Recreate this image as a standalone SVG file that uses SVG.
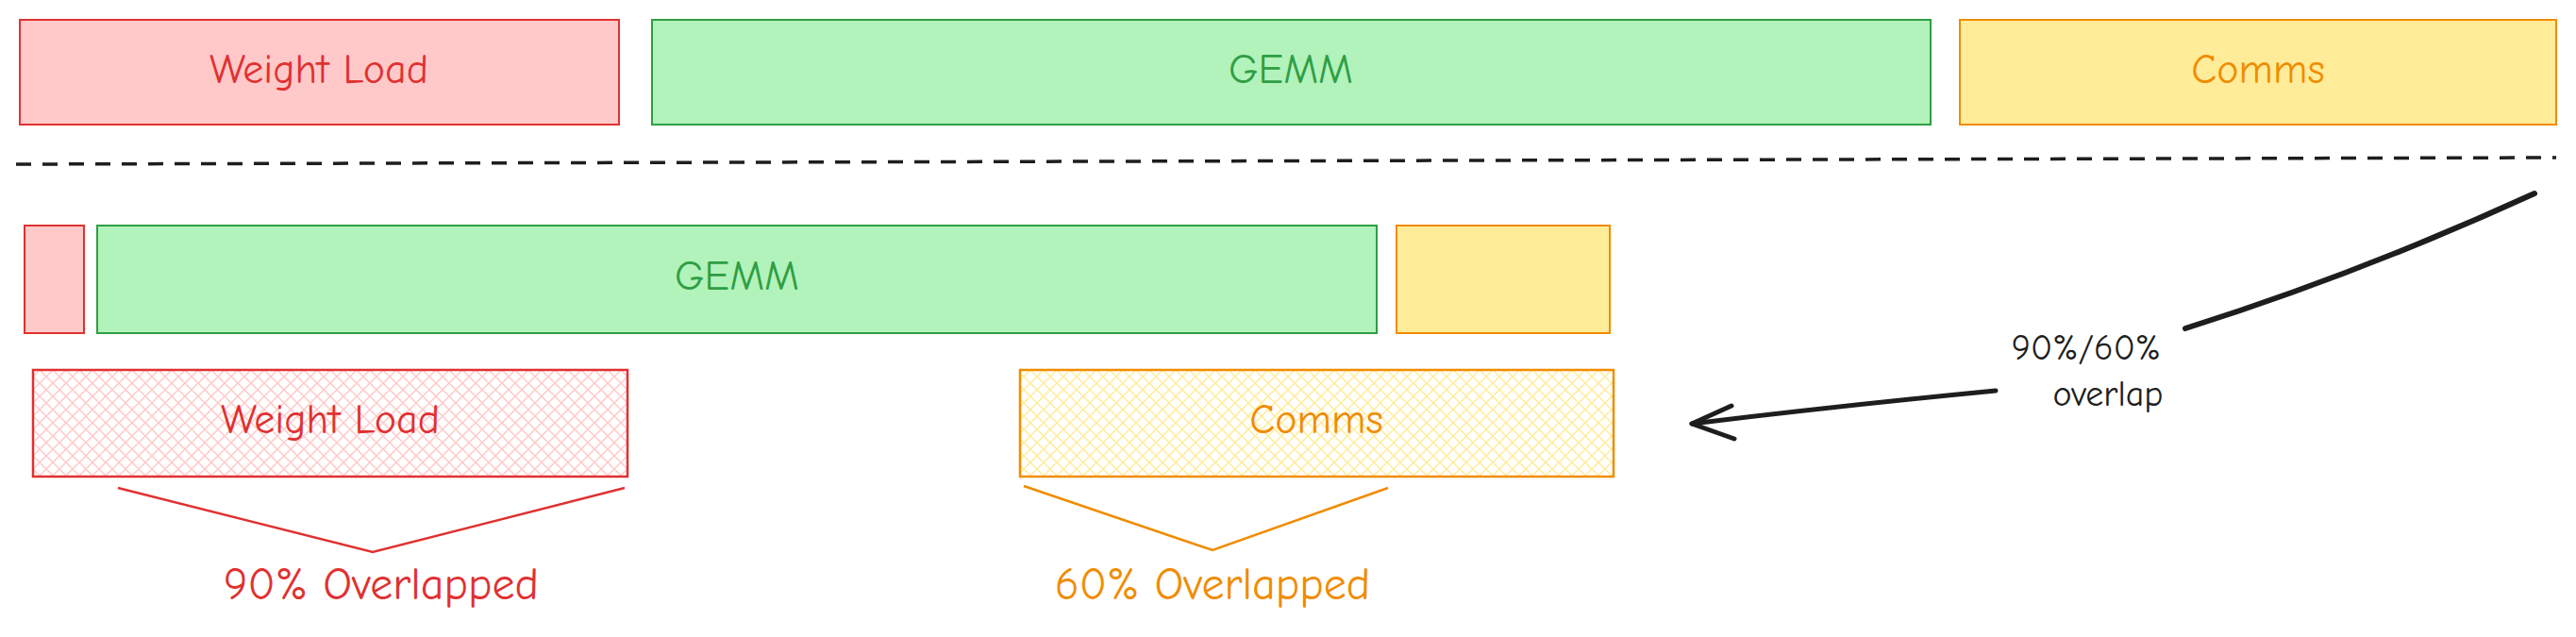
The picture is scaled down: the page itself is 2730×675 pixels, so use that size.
<svg xmlns="http://www.w3.org/2000/svg" width="2730" height="675" viewBox="0 0 2730 675">
<style>
text{font-family:"Comic Neue","Liberation Sans",sans-serif;font-size:44px;text-anchor:middle;dominant-baseline:middle}
.big{font-size:48px}
.ov{font-size:38px}
.r{fill:#ffc9c9;stroke:#e03131;stroke-width:2}
.g{fill:#b2f2bb;stroke:#2f9e44;stroke-width:2}
.y{fill:#ffec99;stroke:#f08c00;stroke-width:2}
.tr{fill:#e03131}.tg{fill:#2f9e44}.ty{fill:#f08c00}.tk{fill:#1e1e1e}
</style>
<defs>
<pattern id="hr" width="14" height="14" patternUnits="userSpaceOnUse"><path d="M0 0L14 14M14 0L0 14" stroke="#ffc9c9" stroke-width="1.5"/></pattern>
<pattern id="hy" width="14" height="14" patternUnits="userSpaceOnUse"><path d="M0 0L14 14M14 0L0 14" stroke="#ffec99" stroke-width="1.5"/></pattern>
</defs>
<g id="top-weight"><rect class="r" x="21" y="21" width="635" height="111"/><text class="tr" x="338" y="77">Weight Load</text></g>
<g id="top-gemm"><rect class="g" x="691" y="21" width="1355" height="111"/><text class="tg" x="1368" y="77">GEMM</text></g>
<g id="top-comms"><rect class="y" x="2077" y="21" width="632" height="111"/><text class="ty" x="2393" y="77">Comms</text></g>
<g id="mid-weight"><rect class="r" x="26" y="239" width="63" height="114"/></g>
<g id="mid-gemm"><rect class="g" x="103" y="239" width="1356" height="114"/><text class="tg" x="781" y="296">GEMM</text></g>
<g id="mid-comms"><rect class="y" x="1480" y="239" width="226" height="114"/></g>
<g id="low-weight"><rect x="35" y="392" width="630" height="113" fill="url(#hr)" stroke="#e03131" stroke-width="2.5"/><text class="tr" x="350" y="448">Weight Load</text></g>
<g id="low-comms"><rect x="1081" y="392" width="629" height="113" fill="url(#hy)" stroke="#f08c00" stroke-width="2.5"/><text class="ty" x="1395" y="448">Comms</text></g>
<g id="lbl-90"><text class="tr big" x="404" y="623">90% Overlapped</text></g>
<g id="lbl-60"><text class="ty big" x="1285" y="623">60% Overlapped</text></g>
<g id="lbl-overlap"><text class="tk ov" x="2211" y="372">90%/60%</text><text class="tk ov" x="2234" y="421">overlap</text></g>
<g id="connectors" fill="none">
<path d="M17 174L2709 167" stroke="#1e1e1e" stroke-width="3.5" stroke-dasharray="16 12"/>
<path d="M125 517L395 585L662 517" stroke="#e03131" stroke-width="2.5"/>
<path d="M1085 515L1285 583L1471 517" stroke="#f08c00" stroke-width="2.5"/>
<path d="M2686 205Q2500 290 2316 348" stroke="#1e1e1e" stroke-width="6" stroke-linecap="round"/>
<path d="M2115 414Q1950 430 1793 449" stroke="#1e1e1e" stroke-width="5" stroke-linecap="round"/>
<path d="M1835 430L1793 449L1838 465" stroke="#1e1e1e" stroke-width="5" stroke-linecap="round" stroke-linejoin="round"/>
</g>
</svg>
